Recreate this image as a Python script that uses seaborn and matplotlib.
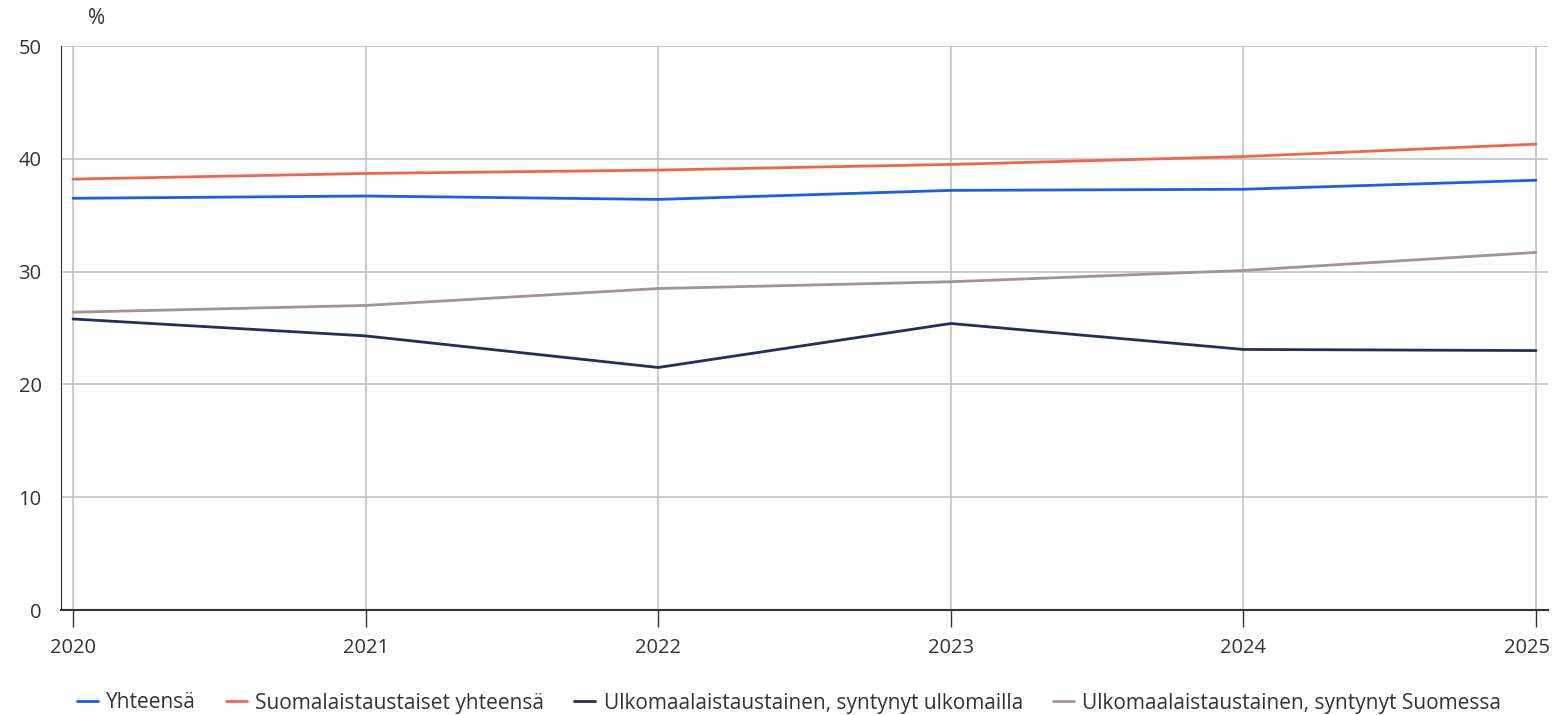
import pandas as pd
import matplotlib.pyplot as plt
import matplotlib.transforms as mtransforms
import seaborn as sns

# Data
years = [2020, 2021, 2022, 2023, 2024, 2025]
yhteensa = [36.5, 36.7, 36.4, 37.2, 37.3, 38.1]
suomalais = [38.2, 38.7, 39.0, 39.5, 40.2, 41.3]
ulk_ulkomailla = [25.8, 24.3, 21.5, 25.4, 23.1, 23.0]
ulk_suomessa = [26.4, 27.0, 28.5, 29.1, 30.1, 31.7]

series_names = [
    "Yhteensä",
    "Suomalaistaustaiset yhteensä",
    "Ulkomaalaistaustainen, syntynyt ulkomailla",
    "Ulkomaalaistaustainen, syntynyt Suomessa",
]
colors = ["#1a5cf0", "#f4644a", "#1f2f5e", "#a09590"]

df = pd.DataFrame({
    "vuosi": years * 4,
    "arvo": yhteensa + suomalais + ulk_ulkomailla + ulk_suomessa,
    "sarja": [n for n in series_names for _ in years],
})

sns.set_style("white")
plt.rcParams["font.family"] = ["Open Sans", "DejaVu Sans"]

fig = plt.figure(figsize=(15.52, 7.15), dpi=100)
ax = fig.add_axes([61 / 1552, 1 - 610 / 715, (1548 - 61) / 1552, (610 - 46) / 715])

sns.lineplot(
    data=df, x="vuosi", y="arvo", hue="sarja",
    palette=dict(zip(series_names, colors)),
    linewidth=2, ax=ax, legend=True,
)

ax.set_xlim(2020 - 12 / 292.6, 2025 + 12 / 292.6)
ax.set_ylim(0, 50)
ax.set_xticks(years)
ax.set_yticks([0, 10, 20, 30, 40, 50])
ax.grid(True, color="#c4c4c4", linewidth=1.2)
ax.set_axisbelow(True)
for s in ["top", "right"]:
    ax.spines[s].set_visible(False)
ax.spines["left"].set_color("#333333")
ax.spines["bottom"].set_color("#333333")
ax.spines["bottom"].set_linewidth(1.5)
ax.tick_params(axis="x", bottom=True, length=12, width=1, color="#333333",
               labelsize=14.5, pad=8, labelcolor="#333333")
ax.tick_params(axis="y", left=False, length=0, labelsize=14.5, pad=14, labelcolor="#333333")
ax.set_xlabel("")
ax.set_ylabel("")

# last year label pushed inside the figure, like the original
fig.canvas.draw()
last = ax.get_xticklabels()[-1]
last.set_horizontalalignment("right")
last.set_transform(last.get_transform() + mtransforms.ScaledTranslation(14 / 100, 0, fig.dpi_scale_trans))

ax.text(97 / 1552, 1 - 18 / 715, "%", transform=fig.transFigure,
        ha="center", va="center", fontsize=15, color="#333333")

handles, labels = ax.get_legend_handles_labels()
ax.legend(handles, labels, loc="center", bbox_to_anchor=(789 / 1552, 1 - 703 / 715),
          bbox_transform=fig.transFigure, ncol=4, frameon=False,
          fontsize=15, handlelength=1.0, handletextpad=0.4, columnspacing=1.45,
          labelcolor="#333333")

plt.savefig("out.png", dpi=100)
plt.close()
